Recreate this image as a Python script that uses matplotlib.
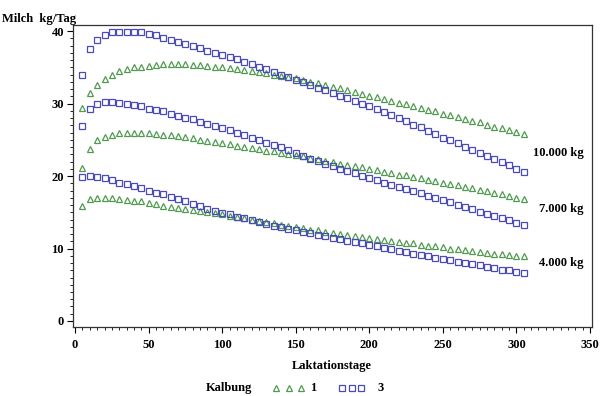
import matplotlib
matplotlib.use("Agg")
import matplotlib.pyplot as plt
from matplotlib.ticker import MultipleLocator

# Laktationstage (Tag 5 .. 305, alle 5 Tage)
tage = list(range(5, 306, 5))

# Kalbung 1 (Dreiecke) und Kalbung 3 (Quadrate), je Leistungsniveau
k1_10000 = [29.4, 31.4, 32.6, 33.4, 34.0, 34.5, 34.8, 35.0, 35.1, 35.2,
            35.3, 35.4, 35.4, 35.4, 35.4, 35.3, 35.3, 35.2, 35.1, 35.0,
            34.9, 34.8, 34.6, 34.5, 34.3, 34.2, 34.0, 33.8, 33.7, 33.5,
            33.2, 33.0, 32.8, 32.6, 32.3, 32.1, 31.8, 31.6, 31.3, 31.1,
            30.9, 30.6, 30.4, 30.1, 29.9, 29.6, 29.4, 29.1, 28.9, 28.6,
            28.4, 28.1, 27.9, 27.6, 27.4, 27.1, 26.8, 26.6, 26.3, 26.1,
            25.8]
k3_10000 = [34.0, 37.5, 38.8, 39.5, 39.8, 39.9, 39.9, 39.9, 39.8, 39.6,
            39.4, 39.1, 38.8, 38.5, 38.2, 37.9, 37.6, 37.3, 37.0, 36.7,
            36.4, 36.1, 35.7, 35.4, 35.1, 34.7, 34.4, 34.0, 33.7, 33.3,
            33.0, 32.6, 32.2, 31.9, 31.5, 31.1, 30.7, 30.4, 30.0, 29.6,
            29.2, 28.8, 28.4, 28.0, 27.6, 27.1, 26.7, 26.2, 25.8, 25.3,
            24.9, 24.5, 24.0, 23.6, 23.2, 22.8, 22.3, 21.9, 21.5, 21.0,
            20.6]
k1_7000 = [21.1, 23.7, 25.0, 25.4, 25.7, 25.9, 26.0, 26.0, 26.0, 25.9,
           25.8, 25.7, 25.6, 25.5, 25.4, 25.2, 25.0, 24.8, 24.7, 24.5,
           24.4, 24.2, 24.0, 23.9, 23.7, 23.5, 23.4, 23.2, 23.0, 22.9,
           22.7, 22.5, 22.3, 22.1, 21.9, 21.7, 21.5, 21.4, 21.2, 21.0,
           20.8, 20.6, 20.4, 20.2, 20.1, 19.9, 19.7, 19.5, 19.3, 19.1,
           18.9, 18.7, 18.5, 18.3, 18.1, 17.9, 17.7, 17.5, 17.3, 17.0,
           16.8]
k3_7000 = [26.9, 29.2, 29.9, 30.2, 30.2, 30.1, 30.0, 29.8, 29.6, 29.3,
           29.1, 28.9, 28.6, 28.3, 28.0, 27.8, 27.5, 27.2, 26.9, 26.6,
           26.3, 26.0, 25.6, 25.3, 25.0, 24.6, 24.3, 24.0, 23.6, 23.2,
           22.8, 22.4, 22.1, 21.7, 21.4, 21.0, 20.7, 20.4, 20.0, 19.7,
           19.4, 19.1, 18.8, 18.5, 18.2, 17.9, 17.6, 17.3, 17.0, 16.7,
           16.4, 16.0, 15.7, 15.4, 15.1, 14.8, 14.5, 14.2, 13.9, 13.5,
           13.2]
k1_4000 = [15.8, 16.8, 17.0, 17.0, 16.9, 16.8, 16.7, 16.6, 16.5, 16.3,
           16.1, 15.9, 15.7, 15.6, 15.4, 15.3, 15.2, 15.0, 14.9, 14.7,
           14.5, 14.4, 14.2, 14.0, 13.8, 13.7, 13.5, 13.3, 13.1, 12.9,
           12.8, 12.6, 12.5, 12.3, 12.2, 12.0, 11.9, 11.7, 11.6, 11.4,
           11.3, 11.2, 11.0, 10.9, 10.8, 10.7, 10.5, 10.4, 10.3, 10.2,
           10.0, 9.9, 9.8, 9.6, 9.5, 9.4, 9.3, 9.2, 9.1, 9.0,
           8.9]
k3_4000 = [19.9, 20.0, 19.9, 19.7, 19.4, 19.1, 18.9, 18.6, 18.3, 18.0,
           17.7, 17.5, 17.1, 16.8, 16.5, 16.2, 15.9, 15.5, 15.2, 14.9,
           14.7, 14.4, 14.2, 13.9, 13.6, 13.4, 13.1, 12.9, 12.7, 12.5,
           12.3, 12.1, 11.9, 11.7, 11.5, 11.3, 11.1, 10.9, 10.7, 10.5,
           10.3, 10.1, 9.9, 9.7, 9.5, 9.3, 9.1, 8.9, 8.7, 8.6,
           8.4, 8.2, 8.0, 7.9, 7.7, 7.5, 7.3, 7.1, 7.0, 6.8,
           6.6]

niveaus = ["10.000 kg", "7.000 kg", "4.000 kg"]
niveau_y = [23.2, 15.4, 8.0]

gruen = "#4f9a4f"
blau = "#4a4ab8"

plt.rcParams['font.family'] = ['Liberation Serif', 'DejaVu Serif']

fig = plt.figure(figsize=(6, 3.96), dpi=100)
ax = fig.add_axes([0.1217, 0.1742, 0.865, 0.7627])

for k1, k3 in [(k1_10000, k3_10000), (k1_7000, k3_7000), (k1_4000, k3_4000)]:
    ax.plot(tage, k1, linestyle='none', marker='^', markersize=4.6,
            markerfacecolor='none', markeredgecolor=gruen, markeredgewidth=0.9)
    ax.plot(tage, k3, linestyle='none', marker='s', markersize=4.5,
            markerfacecolor='none', markeredgecolor=blau, markeredgewidth=0.9)

for txt, yy in zip(niveaus, niveau_y):
    ax.text(345.5, yy, txt, ha='right', va='center', fontsize=9, fontweight='bold')

ax.set_xlim(-1.4, 351.4)
ax.set_ylim(-0.83, 40.83)
ax.xaxis.set_major_locator(MultipleLocator(50))
ax.xaxis.set_minor_locator(MultipleLocator(5))
ax.yaxis.set_major_locator(MultipleLocator(10))
ax.yaxis.set_minor_locator(MultipleLocator(1))
ax.tick_params(which='major', direction='out', length=4.5, width=0.8, labelsize=9, pad=2)
ax.tick_params(which='minor', direction='out', length=2.2, width=0.6)
ax.tick_params(axis='x', which='major', pad=4)
for lab in ax.get_xticklabels() + ax.get_yticklabels():
    lab.set_fontweight('bold')
for sp in ax.spines.values():
    sp.set_linewidth(0.9)
    sp.set_color('#333333')

fig.text(2 / 600, 1 - 19 / 396, "Milch  kg/Tag", ha='left', va='center',
         fontsize=9, fontweight='bold')
fig.text(332 / 600, 1 - 366 / 396, "Laktationstage", ha='center', va='center',
         fontsize=9, fontweight='bold')

# Legende unten
ly = 1 - 388 / 396
fig.text(229 / 600, ly, "Kalbung", ha='center', va='center', fontsize=9, fontweight='bold')
for px in [276, 289, 301]:
    fig.lines.append(plt.Line2D([px / 600], [ly], transform=fig.transFigure,
                                marker='^', markersize=4.2, markerfacecolor='none',
                                markeredgecolor=gruen, markeredgewidth=0.9))
fig.text(313 / 600, ly, "1", ha='center', va='center', fontsize=9, fontweight='bold')
for px in [342, 352, 361]:
    fig.lines.append(plt.Line2D([px / 600], [ly], transform=fig.transFigure,
                                marker='s', markersize=4.2, markerfacecolor='none',
                                markeredgecolor=blau, markeredgewidth=0.9))
fig.text(381 / 600, ly, "3", ha='center', va='center', fontsize=9, fontweight='bold')

fig.savefig("out.png", dpi=100)
